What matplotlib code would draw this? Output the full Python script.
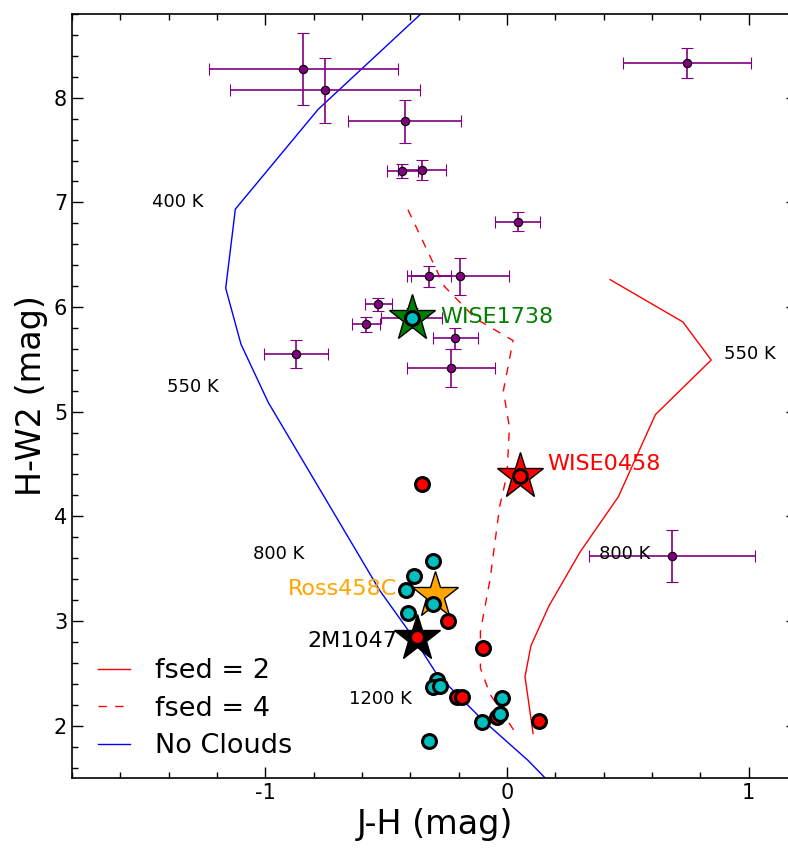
import matplotlib
matplotlib.use('Agg')
import matplotlib.pyplot as plt
import numpy as np

plt.rcParams['axes.unicode_minus'] = False
plt.rcParams['font.family'] = 'DejaVu Sans'

# model tracks: J-H vs H-W2
fsed2_jh = [0.4265, 0.7275, 0.845, 0.614, 0.461, 0.302, 0.174, 0.099, 0.0745, 0.108]
fsed2_hw2 = [6.262, 5.858, 5.494, 4.972, 4.188, 3.658, 3.146, 2.764, 2.468, 1.924]

fsed4_jh = [-0.41, -0.26, -0.13, 0.025, -0.015, 0.01, 0.0, -0.03, -0.07, -0.11, -0.11, -0.07, 0.03]
fsed4_hw2 = [6.93, 6.2, 5.89, 5.68, 5.2, 4.85, 4.4, 4.1, 3.4, 2.9, 2.55, 2.3, 1.95]

noclouds_jh = [-0.36, -0.781, -1.124, -1.164, -1.101, -0.988, -0.526, -0.388, -0.291, -0.098, 0.088, 0.2]
noclouds_hw2 = [8.793, 7.89, 6.936, 6.18, 5.646, 5.089, 3.29, 2.844, 2.494, 2.048, 1.666, 1.4]

# temperature labels along the tracks
temp_text = ['400 K', '550 K', '800 K', '1200 K', '550 K', '800 K']
temp_x = [-1.47, -1.408, -1.052, -0.654, 0.899, 0.381]
temp_y = [7.0, 5.24, 3.64, 2.255, 5.553, 3.643]

# Y dwarfs with photometric errors
y_jh = [-0.843, -0.753, -0.424, -0.433, -0.353, 0.743, 0.044, -0.324, -0.195,
        -0.533, -0.584, -0.395, -0.214, -0.233, -0.874, 0.683]
y_hw2 = [8.275, 8.073, 7.773, 7.30, 7.31, 8.33, 6.815, 6.292, 6.292,
         6.025, 5.834, 5.895, 5.70, 5.42, 5.554, 3.62]
y_jh_err = [0.392, 0.395, 0.232, 0.065, 0.10, 0.265, 0.092, 0.091, 0.203,
            0.056, 0.057, 0.126, 0.094, 0.182, 0.133, 0.345]
y_hw2_err = [0.347, 0.31, 0.21, 0.07, 0.093, 0.143, 0.09, 0.097, 0.18,
             0.06, 0.075, 0.10, 0.10, 0.18, 0.134, 0.25]

# T dwarfs
red_jh = [-0.353, -0.246, -0.374, -0.098, -0.208, -0.188, -0.043, 0.134, 0.054]
red_hw2 = [4.309, 3.003, 2.844, 2.742, 2.277, 2.277, 2.079, 2.041, 4.388]
cyan_jh = [-0.305, -0.385, -0.418, -0.305, -0.409, -0.291, -0.308, -0.277,
           -0.019, -0.029, -0.102, -0.324, -0.395]
cyan_hw2 = [3.576, 3.433, 3.296, 3.162, 3.073, 2.436, 2.366, 2.382,
            2.265, 2.111, 2.032, 1.85, 5.895]

# named objects
star_names = ['WISE1738', 'WISE0458', 'Ross458C', '2M1047']
star_jh = [-0.395, 0.054, -0.296, -0.374]
star_hw2 = [5.895, 4.388, 3.25, 2.837]
star_colors = ['g', 'r', 'orange', 'k']
name_x = [-0.277, 0.166, -0.907, -0.824]
name_y = [5.907, 4.503, 3.31, 2.81]

fig = plt.figure(figsize=(7.88, 8.48), dpi=100)
ax = fig.add_axes([72/788., 1-778/848., (797-72)/788., (778-14)/848.])

ax.plot(fsed2_jh, fsed2_hw2, 'r-', lw=1, label='fsed = 2')
ax.plot(fsed4_jh, fsed4_hw2, 'r', ls=(0, (6, 6)), lw=1, label='fsed = 4')
ax.plot(noclouds_jh, noclouds_hw2, 'b-', lw=1, label='No Clouds')

for t, tx, ty in zip(temp_text, temp_x, temp_y):
    ax.text(tx, ty, t, fontsize=13, va='center', ha='left')

ax.errorbar(y_jh, y_hw2, xerr=y_jh_err, yerr=y_hw2_err, fmt='o', color='purple',
            mfc='purple', mec='k', ms=6, mew=0.8, elinewidth=1.2, capsize=4, capthick=1.2)

for n, nx, ny, c in zip(star_names, name_x, name_y, star_colors):
    ax.text(nx, ny, n, fontsize=16, color=c, va='center', ha='left')

for sx, sy, c in zip(star_jh, star_hw2, star_colors):
    ax.plot(sx, sy, '*', color=c, ms=35, mec='k', mew=1, zorder=3.5)

ax.plot(red_jh, red_hw2, 'o', color='r', mec='k', ms=10, mew=2.2, ls='none', zorder=4)
ax.plot(cyan_jh, cyan_hw2, 'o', color='c', mec='k', ms=10, mew=2.2, ls='none', zorder=4)

ax.set_xlim(-1.8, 1.2)
ax.set_ylim(1.5, 8.8)
ax.set_xticks([-1, 0, 1])
ax.set_yticks([2, 3, 4, 5, 6, 7, 8])
ax.set_xticks(np.arange(-1.8, 1.21, 0.2), minor=True)
ax.set_yticks(np.arange(1.6, 8.81, 0.2), minor=True)
ax.tick_params(which='both', direction='in', top=True, right=True, labelsize=15, width=1)
ax.tick_params(which='major', length=8)
ax.tick_params(which='minor', length=4)
for sp in ax.spines.values():
    sp.set_linewidth(1.2)

ax.set_xlabel('J-H (mag)', fontsize=24)
ax.set_ylabel('H-W2 (mag)', fontsize=24)

ax.legend(loc='lower left', bbox_to_anchor=(0.0097, 0.0), frameon=False, fontsize=19.5,
          handlelength=1.2, handletextpad=0.9, labelspacing=0.42, borderaxespad=0.3)

fig.savefig('out.png', dpi=100)
